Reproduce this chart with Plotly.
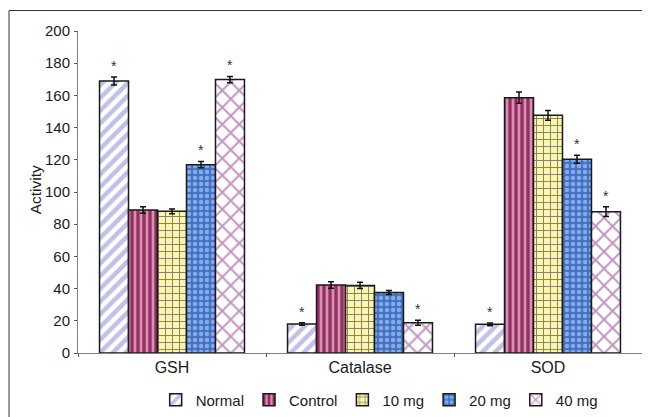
import plotly.graph_objects as go

categories = ["GSH", "Catalase", "SOD"]
groups = ["Normal", "Control", "10 mg", "20 mg", "40 mg"]
values = {
    "Normal":  [169.0, 18.0, 17.8],
    "Control": [88.8, 42.2, 158.6],
    "10 mg":   [88.0, 42.0, 147.6],
    "20 mg":   [117.0, 37.6, 120.3],
    "40 mg":   [169.8, 18.8, 87.8],
}
errors = {
    "Normal":  [2.5, 0.8, 0.8],
    "Control": [2.0, 2.0, 3.5],
    "10 mg":   [1.5, 2.0, 3.0],
    "20 mg":   [2.0, 1.2, 2.5],
    "40 mg":   [2.0, 1.5, 3.0],
}
significant = {
    "Normal":  [True, True, True],
    "Control": [False, False, False],
    "10 mg":   [False, False, False],
    "20 mg":   [True, False, True],
    "40 mg":   [True, True, True],
}

styles = {
    "Normal":  dict(shape="/", fg="#8282d2", bg="#ffffff", size=9, sol=0.5),
    "Control": dict(shape="|", fg="#ffffff", bg="#9a2a62", size=6, sol=0.45),
    "10 mg":   dict(shape="+", fg="#111111", bg="#fbf5b0", size=7, sol=0.26),
    "20 mg":   dict(shape=".", fg="#c4ecfb", bg="#4470c8", size=6, sol=0.45),
    "40 mg":   dict(shape="x", fg="#862a86", bg="#ffffff", size=12, sol=0.3),
}

FONT = "Liberation Sans, Arial, sans-serif"
BARGAP = 0.229
fig = go.Figure()
for g in groups:
    s = styles[g]
    fig.add_trace(go.Bar(
        name=g, x=categories, y=values[g],
        marker=dict(color=s["bg"], line=dict(color="#1a1a1a", width=1.5),
                    pattern=dict(shape=s["shape"], fgcolor=s["fg"], bgcolor=s["bg"],
                                 size=s["size"], solidity=s["sol"], fillmode="overlay")),
        error_y=dict(type="data", array=errors[g], color="#111111", thickness=1.5, width=3),
    ))

n = len(groups)
w = (1 - BARGAP) / n
for j, g in enumerate(groups):
    for i, c in enumerate(categories):
        if significant[g][i]:
            fig.add_annotation(x=i + (j - (n - 1) / 2) * w, y=values[g][i] + errors[g][i],
                               xref="x", yref="y", text="*", showarrow=False,
                               yanchor="bottom", yshift=1,
                               font=dict(size=14, color="#333333", family=FONT))

fig.add_annotation(text="Activity", xref="paper", yref="paper", x=-0.0762, y=0.5054,
                   textangle=-90, showarrow=False, xanchor="center", yanchor="middle",
                   font=dict(size=15.5, color="#1a1a1a", family=FONT))

fig.add_shape(type="rect", xref="paper", yref="paper",
              x0=-0.1223, y0=-0.5, x1=1.2, y1=1.0636,
              line=dict(color="#333333", width=1), layer="below")

fig.update_layout(
    width=650, height=450,
    margin=dict(l=70, r=16, t=22.5, b=105),
    paper_bgcolor="white", plot_bgcolor="white",
    barmode="group", bargap=BARGAP, bargroupgap=0,
    font=dict(family=FONT, size=16, color="#1a1a1a"),
    showlegend=True,
    legend=dict(orientation="h", x=0.534, xanchor="center", y=-0.1457, yanchor="middle",
                font=dict(size=15), itemwidth=30,
                bgcolor="rgba(0,0,0,0)"),
    xaxis=dict(showline=True, linecolor="#808080", linewidth=1,
               ticks="outside", ticklen=3, tickcolor="#555555", automargin=False,
               tickson="boundaries", showgrid=False, tickfont=dict(size=16)),
    yaxis=dict(range=[0, 200], dtick=20, showline=True, linecolor="#808080", linewidth=1,
               ticks="outside", ticklen=3, tickcolor="#555555", showgrid=False, zeroline=False,
               automargin=False, ticklabelstandoff=1,
               tickfont=dict(size=15)),
)

fig.write_html("out.html")
